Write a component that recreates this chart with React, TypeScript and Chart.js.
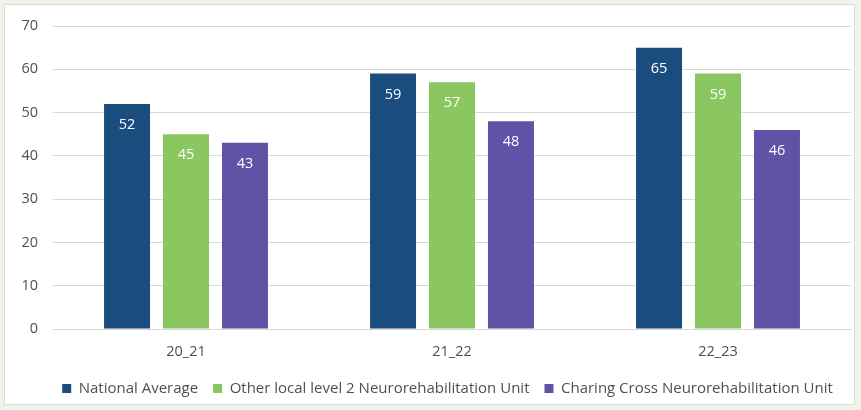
import React, { useEffect, useRef } from "react";
import { Chart, registerables } from "chart.js";

Chart.register(...registerables);

const categories = ["20_21", "21_22", "22_23"];
const nationalAverage = [52, 59, 65];
const otherLocalUnit = [45, 57, 59];
const charingCross = [43, 48, 46];
const seriesNames = [
  "National Average",
  "Other local level 2 Neurorehabilitation Unit",
  "Charing Cross Neurorehabilitation Unit",
];
const yTicks = [0, 10, 20, 30, 40, 50, 60, 70];

const FONT = "'Open Sans', 'DejaVu Sans', sans-serif";

const dataLabels = {
  id: "dataLabels",
  afterDatasetsDraw(chart: any) {
    const ctx = chart.ctx;
    ctx.save();
    ctx.fillStyle = "#ffffff";
    ctx.font = `14.5px ${FONT}`;
    ctx.textAlign = "center";
    ctx.textBaseline = "middle";
    chart.data.datasets.forEach((ds: any, i: number) => {
      const meta = chart.getDatasetMeta(i);
      meta.data.forEach((bar: any, j: number) => {
        ctx.fillText(String(ds.data[j]), bar.x, bar.y + 21);
      });
    });
    ctx.restore();
  },
};

const legendShift = {
  id: "legendShift",
  afterLayout(chart: any) {
    const lg = chart.legend;
    if (lg) {
      lg.left += 22;
      lg.right += 22;
    }
  },
};

export default function App() {
  const ref = useRef<HTMLCanvasElement | null>(null);

  useEffect(() => {
    document.body.style.margin = "0";
    const canvas = ref.current;
    if (!canvas) return;
    const chart = new Chart(canvas, {
      type: "bar",
      data: {
        labels: categories,
        datasets: [
          { label: seriesNames[0], data: nationalAverage, backgroundColor: "#1a4d7d" },
          { label: seriesNames[1], data: otherLocalUnit, backgroundColor: "#8bc760" },
          { label: seriesNames[2], data: charingCross, backgroundColor: "#6052a6" },
        ],
      },
      options: {
        animation: false,
        responsive: false,
        maintainAspectRatio: false,
        layout: { padding: { left: 0, right: 10, top: 26, bottom: 4 } },
        datasets: {
          bar: { categoryPercentage: 0.665, barPercentage: 0.78 },
        },
        scales: {
          x: {
            grid: { display: false, drawTicks: false },
            border: { display: true, color: "#d9d9d9" },
            ticks: { color: "#505050", font: { family: FONT, size: 14.5 }, padding: 14 },
            afterFit(scale: any) {
              scale.height = 37;
            },
          },
          y: {
            min: 0,
            max: 70,
            afterBuildTicks(scale: any) {
              scale.ticks = yTicks.map((v) => ({ value: v }));
            },
            grid: { color: "#d9d9d9", drawTicks: false },
            border: { display: false },
            ticks: { color: "#505050", font: { family: FONT, size: 14.5 }, padding: 15 },
            afterFit(scale: any) {
              scale.width = 53;
            },
          },
        },
        plugins: {
          legend: {
            position: "bottom",
            labels: {
              color: "#505050",
              font: { family: FONT, size: 15 },
              boxWidth: 9,
              boxHeight: 9,
              padding: 15,
            },
          },
          tooltip: { enabled: false },
        },
      },
      plugins: [dataLabels, legendShift],
    });
    return () => chart.destroy();
  }, []);

  return (
    <div
      style={{
        position: "absolute",
        left: 0,
        top: 0,
        width: 861,
        height: 410,
        background: "#eef4e8",
      }}
    >
      <div
        style={{
          position: "absolute",
          left: 4,
          top: 4,
          width: 851,
          height: 401,
          background: "#ffffff",
          border: "1px solid #dcdcdc",
          boxSizing: "border-box",
        }}
      />
      <canvas
        ref={ref}
        width={861}
        height={410}
        style={{ position: "absolute", left: 0, top: 0, width: 861, height: 410 }}
      />
    </div>
  );
}
